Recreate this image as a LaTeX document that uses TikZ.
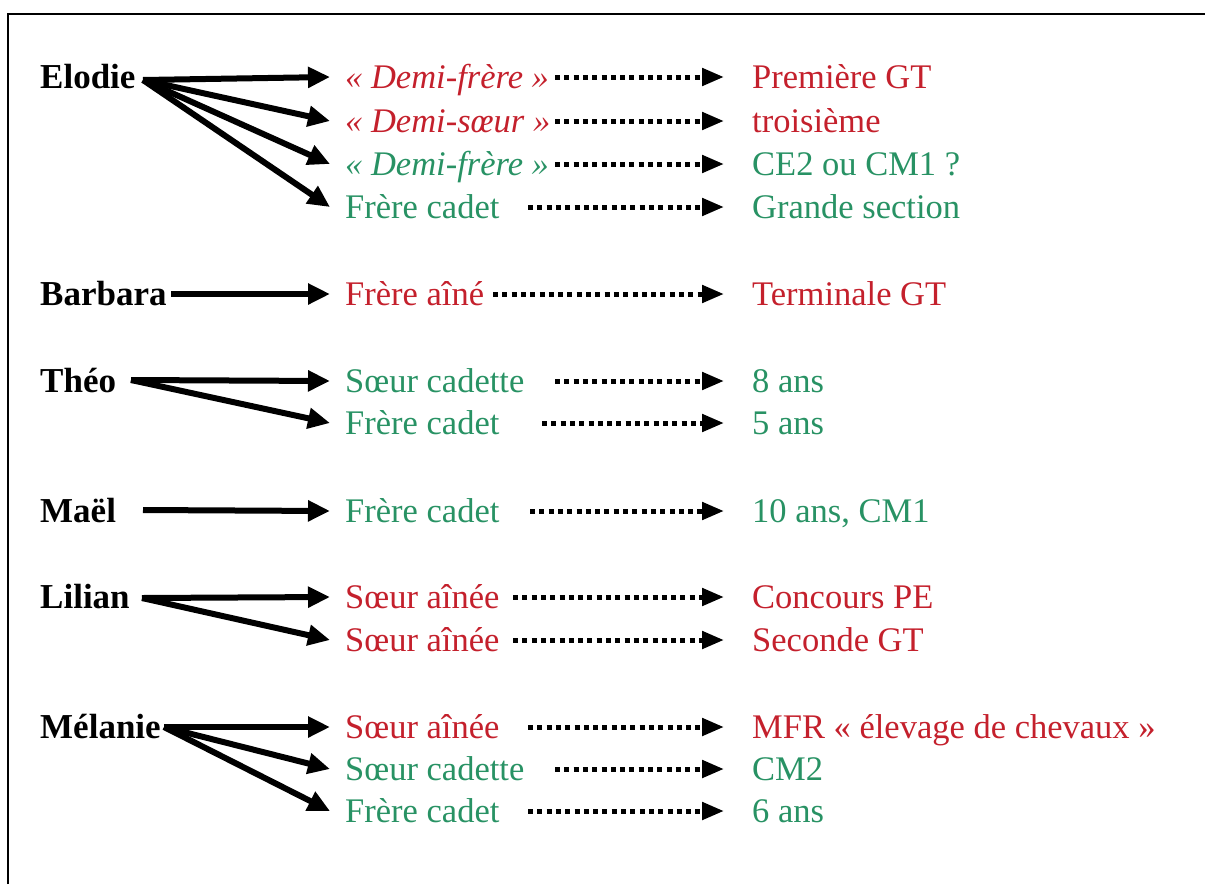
\documentclass[tikz,border=0pt]{standalone}
\usepackage{fontspec}
\setmainfont{Liberation Serif}
\usetikzlibrary{arrows.meta}
\definecolor{frred}{RGB}{196,32,44}
\definecolor{frgreen}{RGB}{40,146,100}

\begin{document}
\begin{tikzpicture}[x=1pt, y=-1pt,
  who/.style={anchor=base west, inner sep=0pt, font=\fontsize{35pt}{42pt}\selectfont\bfseries},
  sib/.style={anchor=base west, inner xsep=15pt, inner ysep=0pt, text height=22pt, text depth=0pt, font=\fontsize{34.5pt}{42pt}\selectfont},
  res/.style={anchor=base west, inner xsep=28pt, inner ysep=0pt, text height=22pt, text depth=0pt, font=\fontsize{34.5pt}{42pt}\selectfont},
  tie/.style={-{Triangle[length=22pt, width=20pt]}, line width=6pt},
  grade/.style={-{Triangle[length=22pt, width=17pt]}, line width=5pt, dash pattern=on 5pt off 4.3pt}]
\useasboundingbox (0,0) rectangle (1205,884);
\draw[line width=2.5pt] (8,884) -- (8,14) -- (1205,14);
\node[who] (elodie) at (40,88) {Elodie};
\node[who] (barbara) at (40,305) {Barbara};
\node[who] (theo) at (40,392) {Théo};
\node[who] (mael) at (40,522) {Maël};
\node[who] (lilian) at (40,608) {Lilian};
\node[who] (melanie) at (40,738) {Mélanie};
\coordinate (elodie-o) at (143,80);
\coordinate (barbara-o) at (171,294);
\coordinate (theo-o) at (131,380);
\coordinate (mael-o) at (143,510);
\coordinate (lilian-o) at (142,598);
\coordinate (melanie-o) at (164,727);
\node[sib, text=frred] (e1) at (330,88) {\textit{« Demi-frère »}};
\node[sib, text=frred] (e2) at (330,132) {\textit{« Demi-sœur »}};
\node[sib, text=frgreen] (e3) at (330,175) {\textit{« Demi-frère »}};
\node[sib, text=frgreen] (e4) at (330,218) {Frère cadet};
\node[sib, text=frred] (b1) at (330,305) {Frère aîné};
\node[sib, text=frgreen] (t1) at (330,392) {Sœur cadette};
\node[sib, text=frgreen] (t2) at (330,434) {Frère cadet};
\node[sib, text=frgreen] (m1) at (330,522) {Frère cadet};
\node[sib, text=frred] (l1) at (330,608) {Sœur aînée};
\node[sib, text=frred] (l2) at (330,651) {Sœur aînée};
\node[sib, text=frred] (me1) at (330,738) {Sœur aînée};
\node[sib, text=frgreen] (me2) at (330,780) {Sœur cadette};
\node[sib, text=frgreen] (me3) at (330,822) {Frère cadet};
\node[res, text=frred] (e1r) at (724,88) {Première GT};
\node[res, text=frred] (e2r) at (724,132) {troisième};
\node[res, text=frgreen] (e3r) at (724,175) {CE2 ou CM1 ?};
\node[res, text=frgreen] (e4r) at (724,218) {Grande section};
\node[res, text=frred] (b1r) at (724,305) {Terminale GT};
\node[res, text=frgreen] (t1r) at (724,392) {8 ans};
\node[res, text=frgreen] (t2r) at (724,434) {5 ans};
\node[res, text=frgreen] (m1r) at (724,522) {10 ans, CM1};
\node[res, text=frred] (l1r) at (724,608) {Concours PE};
\node[res, text=frred] (l2r) at (724,651) {Seconde GT};
\node[res, text=frred] (me1r) at (724,738) {MFR « élevage de chevaux »};
\node[res, text=frgreen] (me2r) at (724,780) {CM2};
\node[res, text=frgreen] (me3r) at (724,822) {6 ans};
\coordinate (e1d) at (555,77);
\coordinate (e2d) at (555,121);
\coordinate (e3d) at (555,164);
\coordinate (e4d) at (528,207);
\coordinate (b1d) at (493,294);
\coordinate (t1d) at (555,381);
\coordinate (t2d) at (542,423);
\coordinate (m1d) at (530,511);
\coordinate (l1d) at (513,597);
\coordinate (l2d) at (513,640);
\coordinate (me1d) at (528,727);
\coordinate (me2d) at (555,769);
\coordinate (me3d) at (528,811);
\path [tie] (elodie-o) edge (e1.west);
\path [tie] (elodie-o) edge (e2.west);
\path [tie] (elodie-o) edge (e3.west);
\path [tie] (elodie-o) edge (e4.west);
\path [tie] (barbara-o) edge (b1.west);
\path [tie] (theo-o) edge (t1.west);
\path [tie] (theo-o) edge (t2.west);
\path [tie] (mael-o) edge (m1.west);
\path [tie] (lilian-o) edge (l1.west);
\path [tie] (lilian-o) edge (l2.west);
\path [tie] (melanie-o) edge (me1.west);
\path [tie] (melanie-o) edge (me2.west);
\path [tie] (melanie-o) edge (me3.west);
\path [grade] (e1d) edge (e1r.west);
\path [grade] (e2d) edge (e2r.west);
\path [grade] (e3d) edge (e3r.west);
\path [grade] (e4d) edge (e4r.west);
\path [grade] (b1d) edge (b1r.west);
\path [grade] (t1d) edge (t1r.west);
\path [grade] (t2d) edge (t2r.west);
\path [grade] (m1d) edge (m1r.west);
\path [grade] (l1d) edge (l1r.west);
\path [grade] (l2d) edge (l2r.west);
\path [grade] (me1d) edge (me1r.west);
\path [grade] (me2d) edge (me2r.west);
\path [grade] (me3d) edge (me3r.west);
\end{tikzpicture}
\end{document}
